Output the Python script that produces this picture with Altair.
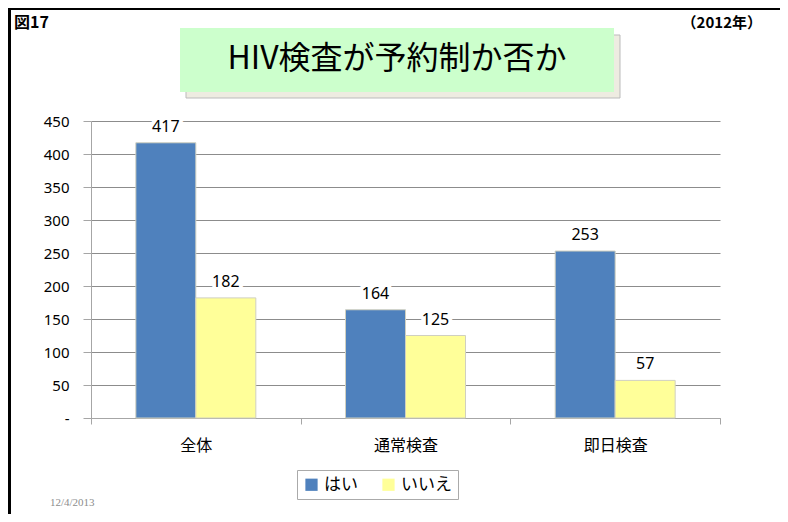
import altair as alt
import pandas as pd

categories = ["全体", "通常検査", "即日検査"]
series = ["はい", "いいえ"]
yes_values = [417, 164, 253]
no_values = [182, 125, 57]
colors = ["#4F81BD", "#FFFF99"]
y_ticks = [0, 50, 100, 150, 200, 250, 300, 350, 400, 450]

rows = []
for c, yv, nv in zip(categories, yes_values, no_values):
    rows.append({"category": c, "series": series[0], "value": yv})
    rows.append({"category": c, "series": series[1], "value": nv})
df = pd.DataFrame(rows)

JP = "Noto Sans CJK JP"
NUM = "Noto Sans"

x_enc = alt.X(
    "category:N", sort=categories, title=None,
    scale=alt.Scale(paddingInner=0, paddingOuter=0),
    axis=alt.Axis(labelAngle=0, labelFont=JP, labelFontSize=16, labelColor="black",
                  labelPadding=13, tickBand="extent", ticks=True, tickSize=6,
                  tickColor="#A6A6A6", domainColor="#A6A6A6", grid=False),
)
xo_enc = alt.XOffset("series:N", sort=series,
                     scale=alt.Scale(paddingInner=0, paddingOuter=0.7475))
y_enc = alt.Y(
    "value:Q", title=None,
    scale=alt.Scale(domain=[0, 450], nice=False, zero=True),
    axis=alt.Axis(values=y_ticks, labelExpr="datum.value == 0 ? '-' : datum.label",
                  labelOverlap=False, labelFont=NUM, labelFontSize=15,
                  labelColor="black", labelPadding=14,
                  tickSize=8, tickColor="#A6A6A6", domainColor="#A6A6A6",
                  grid=True, gridColor="#8C8C8C", gridWidth=1),
)

bars = alt.Chart(df).mark_bar(stroke="#D0D0C0", strokeWidth=1).encode(
    x=x_enc, xOffset=xo_enc, y=y_enc,
    color=alt.Color("series:N", sort=series,
                    scale=alt.Scale(domain=series, range=colors),
                    legend=alt.Legend(orient="none", legendX=206, legendY=349,
                                      direction="horizontal", title=None,
                                      strokeColor="#AAAAAA", fillColor="white",
                                      padding=6, symbolType="square", symbolSize=150,
                                      symbolStrokeWidth=0, labelFont=JP,
                                      labelFontSize=17, labelColor="black",
                                      columnPadding=22, offset=0)),
)

halo = alt.Chart(df).mark_text(baseline="bottom", dy=-8, font=NUM, fontSize=16,
                               stroke="white", strokeWidth=8, color="white").encode(
    x=x_enc, xOffset=xo_enc, y=y_enc, text="value:Q")
labels = alt.Chart(df).mark_text(baseline="bottom", dy=-8, font=NUM, fontSize=16,
                                 color="black").encode(
    x=x_enc, xOffset=xo_enc, y=y_enc, text="value:Q")

one = pd.DataFrame({"k": [0]})
shadow = alt.Chart(one).mark_rect(color="#EEECE1", stroke="#BBBBBB", strokeWidth=1).encode(
    x=alt.value(95), x2=alt.value(529), y=alt.value(-86), y2=alt.value(-23))
box = alt.Chart(one).mark_rect(color="#CCFFCC").encode(
    x=alt.value(89), x2=alt.value(523), y=alt.value(-93), y2=alt.value(-29))
title = alt.Chart(pd.DataFrame({"t": ["HIV検査が予約制か否か"]})).mark_text(
    font=JP, fontSize=32, color="black", align="center", baseline="middle").encode(
    x=alt.value(306), y=alt.value(-62), text="t:N")
fig = alt.Chart(pd.DataFrame({"t": ["図17"]})).mark_text(
    font=JP, fontSize=16, fontWeight="bold", color="black", align="left", baseline="middle").encode(
    x=alt.value(-77), y=alt.value(-98), text="t:N")
year = alt.Chart(pd.DataFrame({"t": ["（2012年）"]})).mark_text(
    font=JP, fontSize=15, fontWeight="bold", color="black", align="right", baseline="middle").encode(
    x=alt.value(671), y=alt.value(-98), text="t:N")
date = alt.Chart(pd.DataFrame({"t": ["12/4/2013"]})).mark_text(
    font="Liberation Serif", fontSize=11, color="#8C8C8C", align="left", baseline="middle").encode(
    x=alt.value(-41), y=alt.value(382), text="t:N")
frame_left = alt.Chart(one).mark_rule(color="black", strokeWidth=3).encode(
    x=alt.value(-81.5), y=alt.value(-113), y2=alt.value(393))
frame_top = alt.Chart(one).mark_rule(color="black", strokeWidth=2).encode(
    x=alt.value(-83), x2=alt.value(689), y=alt.value(-112))

chart = alt.layer(shadow, box, title, fig, year, date, frame_left, frame_top,
                  bars, halo, labels).properties(
    width=629, height=297,
    autosize=alt.AutoSizeParams(type="none"),
    padding={"left": 83, "top": 113, "right": 60, "bottom": 96},
).configure_view(stroke=None)

chart.save("out.html", embed_options={"renderer": "svg", "actions": False})
